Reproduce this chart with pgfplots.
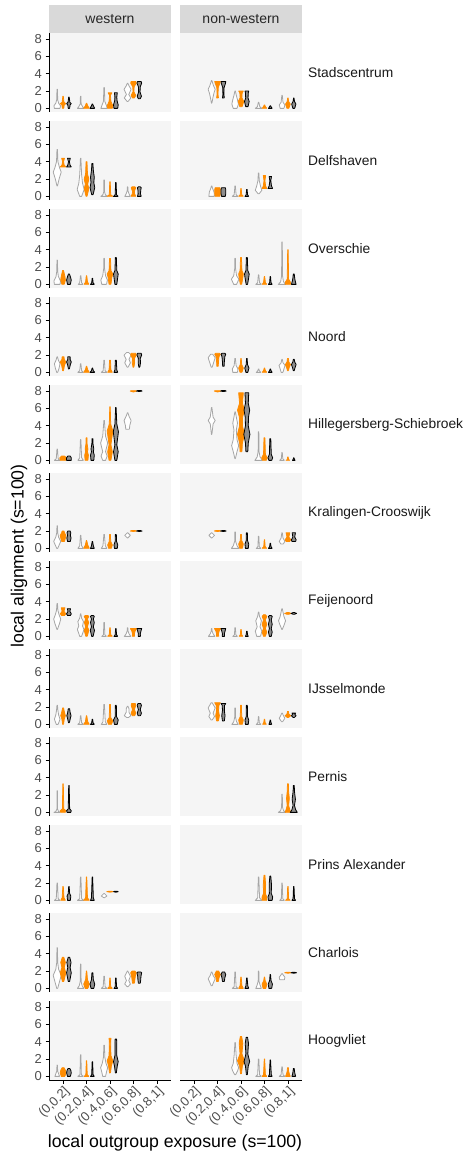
\documentclass[border=0pt]{standalone}
\usepackage{fontspec}
\setmainfont{Liberation Sans}
\usepackage{pgfplots}
\pgfplotsset{compat=1.18}
\definecolor{vorange}{HTML}{FF8C00}
\definecolor{txtgray}{HTML}{4D4D4D}
\definecolor{panelbg}{HTML}{F5F5F5}
\definecolor{stripbg}{HTML}{D9D9D9}
\definecolor{vgray}{HTML}{A6A6A6}
\definecolor{vbfill}{HTML}{8C8C8C}

\pgfplotsset{
 vgs/.style={draw=vgray, fill=white, line width=0.8pt, line join=round},
 vos/.style={draw=vorange, fill=vorange, line width=0.75pt, line join=round},
 vbs/.style={draw=black, fill=vbfill, line width=0.8pt, line join=round},
 panel/.style={scale only axis, width=122pt, height=79pt, anchor=north west,
   xmin=0.4, xmax=5.6, ymin=-0.42, ymax=8.7,
   axis background/.style={fill=panelbg}, clip=false,
   tick align=outside, major tick length=3.5pt,
   axis line style={line width=0.9pt, black},
   tick style={line width=0.8pt, black},
   tick label style={font=\fontsize{13}{13}\selectfont, text=txtgray},
   /pgf/number format/assume math mode=true},
 wl/.style={axis y line*=left, axis x line=none, ytick={0,2,4,6,8}, xtick=\empty},
 nl/.style={axis y line=none, axis x line=none, xtick=\empty, ytick=\empty},
 xl/.style={xtick={1,2,3,4,5},
   xticklabels={{(0,0.2]},{(0.2,0.4]},{(0.4,0.6]},{(0.6,0.8]},{(0.8,1]}},
   xticklabel style={rotate=45, anchor=north east, inner sep=1pt}},
 wb/.style={axis y line*=left, axis x line*=bottom, ytick={0,2,4,6,8}, xl},
 nb/.style={axis y line=none, axis x line*=bottom, ytick=\empty, xl},
}

\newcommand\vio[3]{%
  \gdef\vR{}\gdef\vL{}\gdef\vF{}%
  \foreach \yy/\ww in {#3}{%
    \pgfmathsetmacro\xr{#1+\ww}%
    \pgfmathsetmacro\xl{#1-\ww}%
    \ifx\vR\empty\xdef\vF{(\xr,\yy)}\fi
    \xdef\vR{\vR(\xr,\yy)}%
    \xdef\vL{(\xl,\yy)\vL}%
  }%
  \edef\vnext{\noexpand\addplot[#2] coordinates {\vR\vL\vF};}%
  \vnext}
\newcommand\vg[2]{\vio{#1-0.25}{vgs}{#2}}
\newcommand\vo[2]{\vio{#1}{vos}{#2}}
\newcommand\vb[2]{\vio{#1+0.25}{vbs}{#2}}
\newcommand\panel[4]{\begin{axis}[panel,#3,at={(#1pt,#2pt)}]#4\end{axis}}

\begin{document}
\begin{tikzpicture}
\useasboundingbox (0,0) rectangle (470pt,-1156pt);

% strips
\fill[stripbg] (49pt,-5pt) rectangle (171pt,-33pt);
\fill[stripbg] (180pt,-5pt) rectangle (302pt,-33pt);
\node[font=\fontsize{14}{14}\selectfont, text=black!85] at (110pt,-19pt) {western};
\node[font=\fontsize{14}{14}\selectfont, text=black!85] at (241pt,-19pt) {non-western};

% ---------------- Row 1: Stadscentrum
\panel{49}{-33}{wl}{
 \vg{1}{0/0.12, 0.3/0.14, 0.6/0.06, 1.0/0.02, 2.2/0.01}
 \vo{1}{0/0.03, 0.4/0.05, 0.55/0.12, 0.7/0.04, 1.4/0.01}
 \vb{1}{0/0.03, 0.4/0.05, 0.55/0.1, 0.7/0.04, 1.3/0.01}
 \vg{2}{0/0.14, 0.2/0.08, 0.5/0.02, 1.4/0.01}
 \vo{2}{0/0.12, 0.3/0.05, 0.6/0.01}
 \vb{2}{0/0.1, 0.3/0.04, 0.5/0.01}
 \vg{3}{0/0.14, 0.3/0.1, 0.8/0.03, 2.4/0.01}
 \vo{3}{0/0.1, 0.3/0.12, 0.8/0.04, 1.5/0.02, 1.8/0.08}
 \vb{3}{0/0.08, 0.4/0.1, 0.9/0.05, 1.3/0.04, 1.8/0.06}
 \vg{4}{0.8/0.02, 1.2/0.14, 1.6/0.05, 2.2/0.15, 2.6/0.06, 2.9/0.01}
 \vo{4}{1.2/0.04, 1.5/0.1, 1.9/0.02, 2.5/0.03, 2.9/0.12, 3.1/0.1}
 \vb{4}{1.1/0.04, 1.4/0.09, 1.9/0.03, 2.5/0.04, 2.9/0.1, 3.1/0.08}
}
\panel{180}{-33}{nl}{
 \vg{2}{0.6/0.01, 1.2/0.05, 1.8/0.1, 2.2/0.15, 2.6/0.08, 3.2/0.01}
 \vo{2}{1.2/0.04, 1.6/0.02, 2.4/0.03, 2.9/0.1, 3.1/0.12}
 \vb{2}{1.2/0.04, 1.6/0.02, 2.4/0.03, 2.9/0.09, 3.1/0.1}
 \vg{3}{0/0.08, 0.5/0.14, 1.0/0.1, 1.5/0.05, 2.0/0.01}
 \vo{3}{0.2/0.05, 0.8/0.12, 1.2/0.04, 1.8/0.05, 2.0/0.1}
 \vb{3}{0.2/0.05, 0.8/0.1, 1.2/0.05, 1.8/0.06, 2.0/0.08}
 \vg{4}{0/0.14, 0.2/0.05, 0.7/0.01}
 \vo{4}{0/0.1, 0.2/0.04, 0.4/0.01}
 \vb{4}{0/0.08, 0.15/0.04, 0.3/0.01}
 \vg{5}{0/0.08, 0.4/0.12, 0.7/0.04, 1.5/0.01}
 \vo{5}{0/0.04, 0.5/0.1, 0.8/0.03, 1.2/0.01}
 \vb{5}{0/0.04, 0.5/0.09, 0.8/0.03, 1.2/0.01}
}
% ---------------- Row 2: Delfshaven
\panel{49}{-121}{wl}{
 \vg{1}{1.2/0.01, 2.0/0.08, 2.8/0.17, 3.3/0.1, 4.0/0.03, 5.4/0.01}
 \vo{1}{3.4/0.12, 3.6/0.05, 4.0/0.02, 4.4/0.06}
 \vb{1}{3.4/0.1, 3.6/0.05, 4.0/0.02, 4.4/0.06}
 \vg{2}{0/0.04, 0.8/0.15, 1.5/0.08, 2.5/0.04, 4.4/0.01}
 \vo{2}{0/0.02, 0.9/0.1, 1.4/0.05, 2.0/0.1, 2.6/0.04, 4.0/0.02}
 \vb{2}{0.2/0.03, 1.0/0.1, 1.6/0.06, 2.2/0.08, 3.0/0.04, 3.8/0.02}
 \vg{3}{0/0.14, 0.2/0.05, 0.6/0.01, 1.9/0.01}
 \vo{3}{0/0.12, 0.2/0.03, 1.7/0.01}
 \vb{3}{0/0.1, 0.2/0.03, 1.6/0.01}
 \vg{4}{0/0.12, 0.3/0.06, 0.6/0.02, 1.1/0.01}
 \vo{4}{0/0.1, 0.3/0.05, 0.6/0.04, 1.0/0.1, 1.1/0.06}
 \vb{4}{0/0.08, 0.3/0.05, 0.7/0.06, 1.0/0.08, 1.1/0.04}
}
\panel{180}{-121}{nl}{
 \vg{2}{0/0.12, 0.5/0.1, 0.9/0.04, 1.2/0.01}
 \vo{2}{0/0.1, 0.3/0.12, 0.8/0.12, 1.0/0.1}
 \vb{2}{0/0.08, 0.3/0.1, 0.8/0.1, 1.0/0.08}
 \vg{3}{0/0.12, 0.2/0.04, 1.2/0.01}
 \vo{3}{0/0.1, 0.2/0.03, 0.9/0.01}
 \vb{3}{0/0.08, 0.2/0.03, 0.8/0.01}
 \vg{4}{0.3/0.02, 0.7/0.14, 1.2/0.08, 1.8/0.03, 2.7/0.01}
 \vo{4}{0.9/0.1, 1.2/0.05, 1.8/0.02, 2.4/0.05}
 \vb{4}{0.9/0.1, 1.2/0.05, 1.8/0.02, 2.3/0.05}
}
% ---------------- Row 3: Overschie
\panel{49}{-209}{wl}{
 \vg{1}{0/0.12, 0.4/0.14, 0.9/0.05, 1.5/0.02, 2.8/0.01}
 \vo{1}{0/0.05, 0.5/0.1, 0.9/0.08, 1.6/0.02}
 \vb{1}{0/0.06, 0.5/0.1, 0.9/0.06, 1.2/0.02}
 \vg{2}{0/0.1, 0.2/0.04, 1.0/0.01}
 \vo{2}{0/0.1, 0.3/0.04, 1.0/0.01}
 \vb{2}{0/0.08, 0.2/0.03, 0.7/0.01}
 \vg{3}{0/0.1, 0.5/0.14, 1.0/0.06, 1.8/0.02, 3.0/0.01}
 \vo{3}{0/0.04, 0.8/0.08, 1.2/0.12, 1.6/0.04, 3.0/0.02}
 \vb{3}{0/0.04, 0.8/0.08, 1.2/0.1, 1.6/0.04, 3.1/0.02}
}
\panel{180}{-209}{nl}{
 \vg{3}{0/0.06, 0.6/0.16, 1.0/0.06, 1.8/0.02, 3.0/0.01}
 \vo{3}{0/0.03, 0.8/0.08, 1.2/0.1, 1.6/0.04, 3.1/0.02}
 \vb{3}{0/0.03, 0.8/0.08, 1.2/0.1, 1.6/0.04, 3.1/0.02}
 \vg{4}{0/0.12, 0.2/0.04, 1.1/0.01}
 \vo{4}{0/0.1, 0.2/0.04, 0.9/0.01}
 \vb{4}{0/0.08, 0.2/0.03, 0.9/0.01}
 \vg{5}{0/0.16, 0.3/0.06, 1.0/0.02, 4.9/0.01}
 \vo{5}{0/0.12, 0.3/0.1, 0.6/0.03, 4.0/0.01}
 \vb{5}{0/0.1, 0.4/0.06, 0.7/0.04, 1.2/0.02}
}
% ---------------- Row 4: Noord
\panel{49}{-297}{wl}{
 \vg{1}{0/0.02, 0.5/0.08, 1.0/0.12, 1.4/0.05, 1.8/0.01}
 \vo{1}{0.2/0.02, 0.8/0.06, 1.2/0.12, 1.5/0.05, 1.8/0.04}
 \vb{1}{0.4/0.02, 0.9/0.06, 1.2/0.1, 1.5/0.05, 1.8/0.05}
 \vg{2}{0/0.12, 0.2/0.04, 1.0/0.01}
 \vo{2}{0/0.12, 0.3/0.05, 0.7/0.01}
 \vb{2}{0/0.1, 0.2/0.04, 0.5/0.01}
 \vg{3}{0/0.12, 0.2/0.04, 1.4/0.01}
 \vo{3}{0/0.1, 0.3/0.04, 1.4/0.02}
 \vb{3}{0/0.08, 0.3/0.04, 1.4/0.02}
 \vg{4}{0.6/0.02, 1.1/0.12, 1.5/0.06, 2.0/0.15, 2.3/0.04}
 \vo{4}{0.6/0.02, 1.1/0.05, 1.6/0.04, 2.0/0.12, 2.2/0.1}
 \vb{4}{0.6/0.02, 1.1/0.05, 1.6/0.04, 2.0/0.1, 2.2/0.08}
}
\panel{180}{-297}{nl}{
 \vg{2}{0.6/0.02, 1.1/0.08, 1.7/0.15, 2.1/0.04}
 \vo{2}{0.7/0.03, 1.2/0.04, 1.8/0.06, 2.1/0.12, 2.2/0.08}
 \vb{2}{0.7/0.03, 1.2/0.04, 1.8/0.06, 2.1/0.1, 2.2/0.06}
 \vg{3}{0/0.1, 0.4/0.12, 0.8/0.04, 1.6/0.01}
 \vo{3}{0/0.04, 0.5/0.1, 0.9/0.03, 1.6/0.01}
 \vb{3}{0/0.04, 0.5/0.09, 0.9/0.03, 1.6/0.01}
 \vg{4}{0/0.1, 0.2/0.03, 0.4/0.01}
 \vo{4}{0/0.1, 0.2/0.04, 0.5/0.01}
 \vb{4}{0/0.08, 0.2/0.03, 0.4/0.01}
 \vg{5}{0/0.04, 0.4/0.08, 0.8/0.13, 1.1/0.04, 1.5/0.01}
 \vo{5}{0.2/0.02, 0.6/0.06, 0.9/0.11, 1.2/0.04, 1.6/0.02}
 \vb{5}{0.2/0.02, 0.6/0.06, 0.9/0.1, 1.2/0.04, 1.5/0.02}
}
% ---------------- Row 5: Hillegersberg-Schiebroek
\panel{49}{-385}{wl}{
 \vg{1}{0/0.12, 0.2/0.04, 1.3/0.01}
 \vo{1}{0/0.12, 0.3/0.14, 0.5/0.06}
 \vb{1}{0/0.1, 0.3/0.1, 0.5/0.05}
 \vg{2}{0/0.12, 0.3/0.04, 2.4/0.01}
 \vo{2}{0/0.06, 0.6/0.08, 1.0/0.04, 1.3/0.06, 2.0/0.02, 2.6/0.02}
 \vb{2}{0/0.06, 0.6/0.08, 1.0/0.04, 1.3/0.06, 2.0/0.02, 2.5/0.02}
 \vg{3}{0/0.06, 0.5/0.13, 1.0/0.06, 2.0/0.15, 2.8/0.06, 4.6/0.01}
 \vo{3}{0/0.04, 1.0/0.1, 1.8/0.04, 3.4/0.12, 4.2/0.03, 6.2/0.01}
 \vb{3}{0/0.04, 1.0/0.1, 1.8/0.04, 3.3/0.11, 4.2/0.04, 6.1/0.01}
 \vg{4}{3.6/0.08, 4.0/0.09, 4.6/0.15, 5.1/0.06, 5.5/0.01}
 \vo{4}{7.9/0.01, 8.0/0.14, 8.05/0.1}
 \vb{4}{7.95/0.01, 8.0/0.12, 8.05/0.08}
}
\panel{180}{-385}{nl}{
 \vg{2}{3.0/0.01, 4.2/0.06, 4.6/0.15, 5.0/0.06, 6.1/0.01}
 \vo{2}{7.9/0.01, 8.0/0.14, 8.05/0.1}
 \vb{2}{7.95/0.01, 8.0/0.12, 8.05/0.08}
 \vg{3}{0.2/0.01, 1.0/0.08, 1.7/0.15, 2.4/0.08, 3.5/0.05, 4.3/0.1, 5.0/0.05, 5.6/0.01}
 \vo{3}{1.0/0.04, 2.0/0.06, 3.0/0.15, 4.0/0.06, 5.0/0.07, 5.8/0.15, 6.6/0.06, 7.8/0.1}
 \vb{3}{1.0/0.04, 2.0/0.06, 3.0/0.13, 4.0/0.06, 5.0/0.07, 5.8/0.12, 6.6/0.06, 7.8/0.08}
 \vg{4}{0/0.16, 0.4/0.06, 1.0/0.02, 3.3/0.01}
 \vo{4}{0/0.08, 0.3/0.12, 0.7/0.04, 2.6/0.02}
 \vb{4}{0/0.06, 0.3/0.1, 0.7/0.04, 2.5/0.02}
 \vg{5}{0/0.1, 0.2/0.03, 0.9/0.01}
 \vo{5}{0/0.08, 0.1/0.03, 0.4/0.01}
 \vb{5}{0/0.06, 0.1/0.03, 0.3/0.01}
}
% ---------------- Row 6: Kralingen-Crooswijk
\panel{49}{-473}{wl}{
 \vg{1}{0/0.02, 0.8/0.15, 1.3/0.06, 1.8/0.02, 2.6/0.01}
 \vo{1}{0.8/0.06, 1.2/0.1, 1.5/0.12, 1.8/0.06, 2.0/0.04}
 \vb{1}{0.8/0.06, 1.2/0.09, 1.5/0.06, 1.8/0.08, 2.0/0.05}
 \vg{2}{0/0.12, 0.3/0.04, 1.5/0.01}
 \vo{2}{0/0.12, 0.4/0.05, 0.9/0.01}
 \vb{2}{0/0.08, 0.3/0.04, 0.8/0.01}
 \vg{3}{0/0.12, 0.3/0.05, 1.6/0.01}
 \vo{3}{0/0.06, 0.4/0.1, 0.8/0.03, 1.6/0.02}
 \vb{3}{0/0.06, 0.4/0.08, 0.8/0.03, 1.6/0.02}
 \vg{4}{1.2/0.01, 1.5/0.12, 1.8/0.01}
 \vo{4}{1.95/0.01, 2.0/0.14, 2.05/0.08}
 \vb{4}{1.95/0.01, 2.0/0.12, 2.05/0.06}
}
\panel{180}{-473}{nl}{
 \vg{2}{1.2/0.01, 1.5/0.12, 1.8/0.01}
 \vo{2}{1.95/0.01, 2.0/0.14, 2.05/0.08}
 \vb{2}{1.95/0.01, 2.0/0.12, 2.05/0.06}
 \vg{3}{0/0.16, 0.3/0.08, 0.8/0.02, 1.9/0.01}
 \vo{3}{0/0.06, 0.5/0.1, 0.9/0.03, 1.6/0.02}
 \vb{3}{0/0.06, 0.5/0.08, 0.9/0.03, 1.8/0.02}
 \vg{4}{0/0.1, 0.2/0.03, 1.4/0.01}
 \vo{4}{0/0.1, 0.2/0.03, 1.0/0.01}
 \vb{4}{0/0.08, 0.2/0.03, 0.6/0.01}
 \vg{5}{0.5/0.05, 0.8/0.12, 1.2/0.04, 1.8/0.01}
 \vo{5}{0.8/0.08, 1.0/0.12, 1.3/0.04, 1.8/0.08}
 \vb{5}{0.8/0.08, 1.0/0.1, 1.3/0.04, 1.8/0.07}
}
% ---------------- Row 7: Feijenoord
\panel{49}{-561}{wl}{
 \vg{1}{0.8/0.01, 1.5/0.1, 2.0/0.15, 2.5/0.08, 3.0/0.03, 3.8/0.01}
 \vo{1}{2.4/0.06, 2.6/0.12, 2.9/0.04, 3.3/0.08}
 \vb{1}{2.4/0.06, 2.6/0.1, 2.9/0.04, 3.2/0.07}
 \vg{2}{0/0.04, 0.8/0.14, 1.2/0.08, 1.7/0.12, 2.1/0.04, 2.6/0.01}
 \vo{2}{0/0.03, 0.7/0.1, 1.1/0.04, 1.6/0.09, 2.0/0.04, 2.3/0.1, 2.4/0.06}
 \vb{2}{0/0.03, 0.7/0.09, 1.1/0.04, 1.6/0.08, 2.0/0.04, 2.3/0.08, 2.4/0.05}
 \vg{3}{0/0.1, 0.2/0.03, 1.6/0.01}
 \vo{3}{0/0.1, 0.2/0.03, 1.0/0.01}
 \vb{3}{0/0.08, 0.2/0.03, 0.9/0.01}
 \vg{4}{0/0.14, 0.3/0.06, 0.6/0.02, 1.0/0.01}
 \vo{4}{0/0.05, 0.3/0.04, 0.6/0.07, 0.9/0.13}
 \vb{4}{0/0.05, 0.3/0.04, 0.6/0.07, 0.9/0.1}
}
\panel{180}{-561}{nl}{
 \vg{2}{0/0.14, 0.3/0.06, 0.6/0.02, 0.9/0.01}
 \vo{2}{0/0.05, 0.3/0.04, 0.6/0.07, 0.9/0.13}
 \vb{2}{0/0.05, 0.3/0.04, 0.6/0.07, 0.9/0.1}
 \vg{3}{0/0.1, 0.2/0.03, 1.0/0.01}
 \vo{3}{0/0.08, 0.2/0.03, 0.8/0.01}
 \vb{3}{0/0.06, 0.2/0.03, 0.6/0.01}
 \vg{4}{0/0.08, 0.6/0.14, 1.1/0.06, 1.8/0.12, 2.3/0.04, 2.8/0.01}
 \vo{4}{0/0.04, 0.5/0.1, 0.9/0.04, 1.4/0.1, 1.9/0.04, 2.3/0.1, 2.5/0.04}
 \vb{4}{0/0.04, 0.5/0.08, 0.9/0.04, 1.4/0.08, 1.9/0.04, 2.3/0.08, 2.4/0.04}
 \vg{5}{0.8/0.01, 1.4/0.1, 1.8/0.15, 2.3/0.08, 3.2/0.01}
 \vo{5}{2.55/0.04, 2.65/0.14, 2.75/0.04}
 \vb{5}{2.55/0.03, 2.65/0.12, 2.75/0.03}
}
% ---------------- Row 8: IJsselmonde
\panel{49}{-649}{wl}{
 \vg{1}{0/0.04, 0.6/0.12, 1.1/0.06, 1.6/0.03, 2.2/0.01}
 \vo{1}{0/0.02, 0.6/0.05, 1.0/0.1, 1.4/0.06, 1.9/0.02}
 \vb{1}{0.2/0.02, 0.7/0.06, 1.0/0.09, 1.4/0.05, 1.8/0.03}
 \vg{2}{0/0.12, 0.2/0.04, 1.0/0.01}
 \vo{2}{0/0.12, 0.3/0.05, 1.0/0.01}
 \vb{2}{0/0.08, 0.2/0.03, 0.6/0.01}
 \vg{3}{0/0.12, 0.3/0.05, 2.3/0.01}
 \vo{3}{0/0.06, 0.4/0.12, 0.8/0.03, 2.3/0.02}
 \vb{3}{0/0.06, 0.5/0.1, 0.9/0.03, 2.2/0.02}
 \vg{4}{0.8/0.04, 1.0/0.14, 1.4/0.06, 1.8/0.06, 2.1/0.01}
 \vo{4}{1.0/0.05, 1.3/0.1, 1.7/0.04, 2.2/0.1, 2.4/0.08}
 \vb{4}{1.0/0.05, 1.3/0.09, 1.7/0.04, 2.2/0.09, 2.4/0.06}
}
\panel{180}{-649}{nl}{
 \vg{2}{0.5/0.02, 0.9/0.12, 1.3/0.06, 1.9/0.15, 2.5/0.02}
 \vo{2}{0.4/0.04, 1.0/0.08, 1.6/0.04, 2.2/0.06, 2.5/0.12}
 \vb{2}{0.4/0.04, 1.0/0.07, 1.6/0.04, 2.2/0.05, 2.4/0.1}
 \vg{3}{0/0.14, 0.3/0.06, 0.8/0.02, 1.9/0.01}
 \vo{3}{0/0.06, 0.5/0.1, 0.9/0.03, 2.2/0.02}
 \vb{3}{0/0.06, 0.5/0.08, 0.9/0.03, 2.2/0.02}
 \vg{4}{0/0.1, 0.2/0.03, 0.9/0.01}
 \vo{4}{0/0.08, 0.2/0.03, 0.6/0.01}
 \vb{4}{0/0.06, 0.2/0.03, 0.5/0.01}
 \vg{5}{0.3/0.02, 0.7/0.12, 1.0/0.06, 1.3/0.01}
 \vo{5}{0.8/0.03, 1.0/0.12, 1.2/0.04, 1.5/0.02}
 \vb{5}{0.8/0.03, 1.0/0.1, 1.2/0.04, 1.3/0.08}
}
% ---------------- Row 9: Pernis
\panel{49}{-737}{wl}{
 \vg{1}{0/0.14, 0.1/0.06, 0.4/0.01, 2.5/0.01}
 \vo{1}{0/0.1, 0.2/0.12, 0.4/0.03, 3.3/0.01}
 \vb{1}{0/0.08, 0.2/0.1, 0.4/0.03, 3.1/0.01}
}
\panel{180}{-737}{nl}{
 \vg{5}{0/0.16, 0.2/0.06, 0.6/0.02, 2.1/0.01}
 \vo{5}{0/0.12, 0.3/0.08, 0.8/0.03, 1.6/0.06, 2.4/0.03, 3.3/0.02}
 \vb{5}{0/0.15, 0.3/0.08, 0.8/0.03, 1.5/0.07, 2.4/0.03, 3.1/0.02}
}
% ---------------- Row 10: Prins Alexander
\panel{49}{-825}{wl}{
 \vg{1}{0/0.12, 0.2/0.04, 2.0/0.01}
 \vo{1}{0/0.1, 0.3/0.04, 1.6/0.01}
 \vb{1}{0/0.06, 0.5/0.08, 0.8/0.03, 1.6/0.01}
 \vg{2}{0/0.14, 0.2/0.04, 2.7/0.01}
 \vo{2}{0/0.12, 0.3/0.04, 2.7/0.01}
 \vb{2}{0/0.08, 0.3/0.04, 2.7/0.01}
 \vg{3}{0.3/0.01, 0.5/0.12, 0.8/0.01}
 \vo{3}{0.95/0.01, 1.0/0.14, 1.05/0.08}
 \vb{3}{0.95/0.01, 1.0/0.1, 1.05/0.06}
}
\panel{180}{-825}{nl}{
 \vg{4}{0/0.14, 0.3/0.04, 2.7/0.01}
 \vo{4}{0/0.1, 0.4/0.1, 0.8/0.04, 1.8/0.05, 2.9/0.02}
 \vb{4}{0/0.08, 0.4/0.1, 0.8/0.04, 1.8/0.05, 2.8/0.02}
 \vg{5}{0/0.1, 0.2/0.03, 2.0/0.01}
 \vo{5}{0/0.1, 0.2/0.03, 1.6/0.01}
 \vb{5}{0/0.08, 0.2/0.03, 1.6/0.01}
}
% ---------------- Row 11: Charlois
\panel{49}{-913}{wl}{
 \vg{1}{0/0.02, 0.8/0.1, 1.5/0.17, 2.2/0.06, 3.0/0.02, 4.7/0.01}
 \vo{1}{0.8/0.03, 1.8/0.12, 2.4/0.05, 3.0/0.1, 3.6/0.03}
 \vb{1}{0.8/0.03, 1.8/0.1, 2.4/0.05, 3.0/0.09, 3.6/0.03}
 \vg{2}{0/0.14, 0.3/0.06, 0.8/0.02, 2.8/0.01}
 \vo{2}{0/0.06, 0.5/0.12, 1.0/0.04, 2.0/0.01}
 \vb{2}{0/0.06, 0.5/0.1, 1.0/0.04, 1.8/0.02}
 \vg{3}{0/0.12, 0.2/0.04, 1.4/0.01}
 \vo{3}{0/0.1, 0.2/0.03, 1.2/0.01}
 \vb{3}{0/0.08, 0.2/0.03, 1.2/0.01}
 \vg{4}{0.2/0.02, 0.5/0.12, 0.9/0.05, 1.4/0.12, 2.0/0.01}
 \vo{4}{0.6/0.04, 1.0/0.06, 1.4/0.08, 1.8/0.12, 2.0/0.06}
 \vb{4}{0.6/0.04, 1.0/0.06, 1.4/0.07, 1.8/0.1, 1.9/0.06}
}
\panel{180}{-913}{nl}{
 \vg{2}{0.3/0.02, 0.7/0.08, 1.1/0.15, 1.5/0.06, 1.9/0.01}
 \vo{2}{0.8/0.04, 1.2/0.06, 1.6/0.12, 2.0/0.05}
 \vb{2}{0.8/0.04, 1.2/0.06, 1.6/0.1, 1.9/0.05}
 \vg{3}{0/0.12, 0.2/0.04, 1.9/0.01}
 \vo{3}{0/0.1, 0.3/0.04, 1.3/0.01}
 \vb{3}{0/0.08, 0.3/0.04, 1.2/0.01}
 \vg{4}{0/0.12, 0.4/0.06, 0.8/0.02, 2.0/0.01}
 \vo{4}{0/0.06, 0.5/0.1, 0.9/0.03, 1.3/0.01}
 \vb{4}{0/0.06, 0.5/0.09, 0.9/0.03, 1.6/0.01}
 \vg{5}{1.0/0.1, 1.3/0.12, 1.5/0.06, 1.7/0.01}
 \vo{5}{1.75/0.01, 1.8/0.14, 1.85/0.08}
 \vb{5}{1.75/0.01, 1.8/0.12, 1.85/0.06}
}
% ---------------- Row 12: Hoogvliet
\panel{49}{-1001}{wb}{
 \vg{1}{0/0.1, 0.3/0.06, 0.6/0.02, 1.3/0.01}
 \vo{1}{0/0.08, 0.4/0.12, 0.7/0.1, 1.0/0.04}
 \vb{1}{0/0.06, 0.4/0.1, 0.7/0.08, 0.9/0.04}
 \vg{2}{0/0.12, 0.2/0.03, 2.5/0.01}
 \vo{2}{0/0.1, 0.2/0.03, 1.8/0.01}
 \vb{2}{0/0.08, 0.2/0.03, 1.7/0.01}
 \vg{3}{0/0.06, 0.5/0.1, 1.0/0.15, 1.5/0.08, 2.2/0.03, 3.6/0.01}
 \vo{3}{0.4/0.02, 1.2/0.06, 1.8/0.12, 2.4/0.04, 3.8/0.03, 4.4/0.04}
 \vb{3}{0.4/0.02, 1.2/0.06, 1.7/0.1, 2.4/0.04, 3.8/0.04, 4.3/0.03}
}
\panel{180}{-1001}{nb}{
 \vg{3}{0.2/0.02, 0.6/0.1, 1.0/0.15, 1.5/0.08, 2.5/0.04, 3.9/0.01}
 \vo{3}{0.3/0.02, 1.2/0.06, 1.8/0.15, 2.6/0.04, 3.8/0.08, 4.6/0.03}
 \vb{3}{0.2/0.02, 1.2/0.06, 1.7/0.12, 2.6/0.04, 3.8/0.07, 4.5/0.03}
 \vg{4}{0/0.12, 0.2/0.04, 2.0/0.01}
 \vo{4}{0/0.1, 0.2/0.04, 0.8/0.03, 2.0/0.01}
 \vb{4}{0/0.08, 0.2/0.04, 0.8/0.03, 1.9/0.01}
 \vg{5}{0/0.12, 0.2/0.04, 1.1/0.01}
 \vo{5}{0/0.1, 0.3/0.06, 0.6/0.03, 1.0/0.02}
 \vb{5}{0/0.08, 0.3/0.05, 0.6/0.03, 0.9/0.02}
}

% row labels
\begin{scope}[every node/.style={anchor=west, inner sep=0pt, font=\fontsize{13.8}{14}\selectfont, text=black!90}]
\node at (308pt,-72.5pt) {Stadscentrum};
\node at (308pt,-160.5pt) {Delfshaven};
\node at (308pt,-248.5pt) {Overschie};
\node at (308pt,-336.5pt) {Noord};
\node at (308pt,-424.5pt) {Hillegersberg-Schiebroek};
\node at (308pt,-512.5pt) {Kralingen-Crooswijk};
\node at (308pt,-600.5pt) {Feijenoord};
\node at (308pt,-688.5pt) {IJsselmonde};
\node at (308pt,-776.5pt) {Pernis};
\node at (308pt,-864.5pt) {Prins Alexander};
\node at (308pt,-952.5pt) {Charlois};
\node at (308pt,-1040.5pt) {Hoogvliet};
\end{scope}

% axis titles
\node[font=\fontsize{17.7}{17.7}\selectfont, text=black] at (175pt,-1143pt) {local outgroup exposure (s=100)};
\node[font=\fontsize{17.7}{17.7}\selectfont, text=black, rotate=90] at (19pt,-556pt) {local alignment (s=100)};
\end{tikzpicture}
\end{document}
